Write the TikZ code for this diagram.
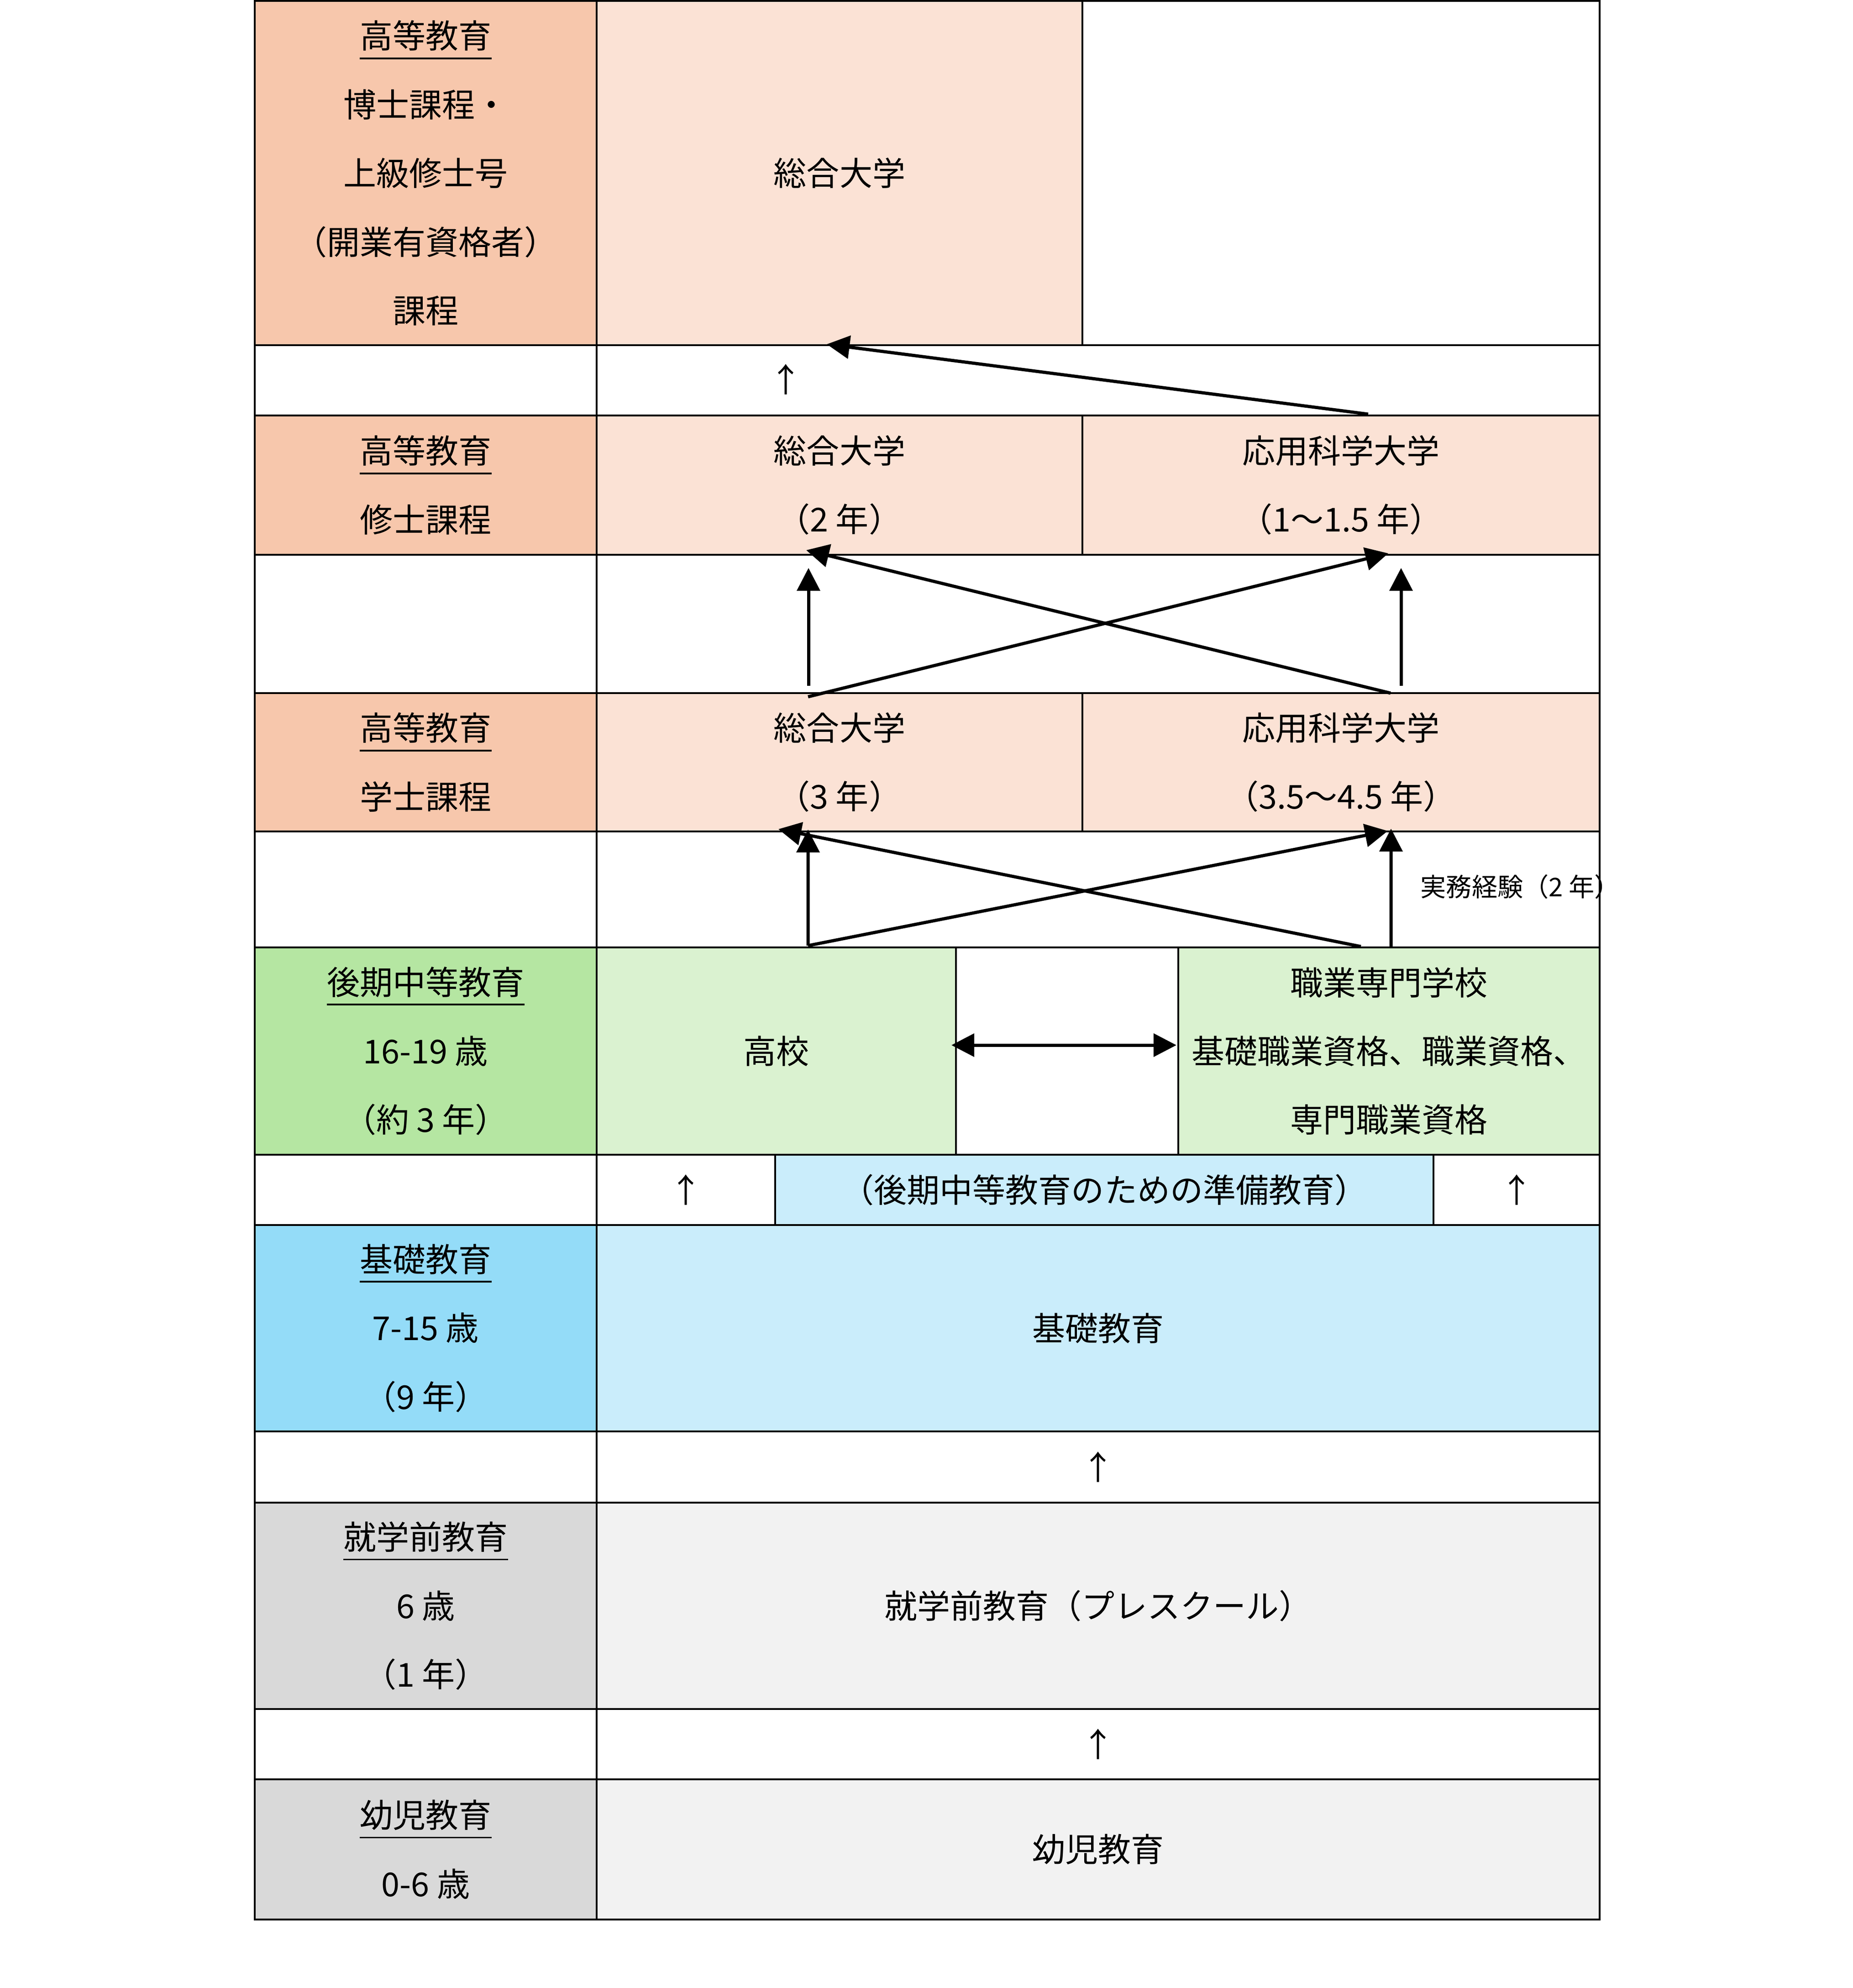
\documentclass[tikz,border=0pt]{standalone}
\usepackage{fontspec}
\setmainfont{Noto Sans CJK JP}
\usepackage{tikz}
\usetikzlibrary{arrows.meta,positioning,calc,fit}

\definecolor{orHead}{HTML}{F7C7AC}
\definecolor{orCell}{HTML}{FBE2D5}
\definecolor{grHead}{HTML}{B5E6A2}
\definecolor{grCell}{HTML}{DAF2D0}
\definecolor{blHead}{HTML}{94DCF8}
\definecolor{blCell}{HTML}{CAEDFB}
\definecolor{gyHead}{HTML}{D9D9D9}
\definecolor{gyCell}{HTML}{F2F2F2}

\newcommand{\cellfont}{\fontsize{20.5pt}{42.8pt}\selectfont}
\newcommand{\notefont}{\fontsize{16pt}{20pt}\selectfont}
% underlined heading line
\newcommand{\uhead}[1]{\setbox0=\hbox{#1}\rlap{\rule[-0.33em]{\wd0}{1.1pt}}\box0}

\begin{document}
\begin{tikzpicture}[>={Triangle[length=5mm,width=5mm]},line join=miter]
	\tikzstyle{cell}=[draw,line width=1.1pt,inner sep=0pt,fill=white]
	\tikzstyle{lbl}=[inner sep=0pt,align=center,font=\cellfont]
	\tikzstyle{flow}=[->,line width=2pt]
	\tikzstyle{up}=[inner sep=0pt,font=\cellfont]
	\tikzstyle{note}=[inner sep=0pt,font=\notefont]

	\useasboundingbox (0,0) rectangle (40.58,-43.54);

	% doctoral
	\node[cell, fill=orHead, fit={(5.58,-0.02) (13.07,-7.56)}, label={[lbl]center:{\uhead{高等教育}\\博士課程・\\上級修士号\\（開業有資格者）\\課程}}] (hdDoc) {};
	\node[cell, fill=orCell, fit={(13.07,-0.02) (23.71,-7.56)}, label={[lbl]center:{総合大学}}] (uniDoc) {};
	\node[cell, fit={(23.71,-0.02) (35.04,-7.56)}] (blankDoc) {};
	\node[cell, fit={(5.58,-7.56) (13.07,-9.10)}] (gapL1) {};
	\node[cell, fit={(13.07,-7.56) (35.04,-9.10)}] (gapR1) {};
	\node[up] (upDoc) at (17.21,-8.31) {↑};

	% masters
	\node[cell, fill=orHead, fit={(5.58,-9.10) (13.07,-12.15)}, label={[lbl]center:{\uhead{高等教育}\\修士課程}}] (hdMas) {};
	\node[cell, fill=orCell, fit={(13.07,-9.10) (23.71,-12.15)}, label={[lbl]center:{総合大学\\（2 年）}}] (uniMas) {};
	\node[cell, fill=orCell, fit={(23.71,-9.10) (35.04,-12.15)}, label={[lbl]center:{応用科学大学\\（1〜1.5 年）}}] (uasMas) {};
	\node[cell, fit={(5.58,-12.15) (13.07,-15.18)}] (gapL2) {};
	\node[cell, fit={(13.07,-12.15) (35.04,-15.18)}] (gapR2) {};

	% bachelor
	\node[cell, fill=orHead, fit={(5.58,-15.18) (13.07,-18.21)}, label={[lbl]center:{\uhead{高等教育}\\学士課程}}] (hdBac) {};
	\node[cell, fill=orCell, fit={(13.07,-15.18) (23.71,-18.21)}, label={[lbl]center:{総合大学\\（3 年）}}] (uniBac) {};
	\node[cell, fill=orCell, fit={(23.71,-15.18) (35.04,-18.21)}, label={[lbl]center:{応用科学大学\\（3.5〜4.5 年）}}] (uasBac) {};
	\node[cell, fit={(5.58,-18.21) (13.07,-20.75)}] (gapL3) {};
	\node[cell, fit={(13.07,-18.21) (35.04,-20.75)}] (gapR3) {};
	\node[note, anchor=west] (work) at (31.11,-19.42) {実務経験（2 年）};

	% upper secondary
	\node[cell, fill=grHead, fit={(5.58,-20.75) (13.07,-25.29)}, label={[lbl]center:{\uhead{後期中等教育}\\16-19 歳\\（約 3 年）}}] (hdSec) {};
	\node[cell, fill=grCell, fit={(13.07,-20.75) (20.94,-25.29)}, label={[lbl]center:{高校}}] (highSec) {};
	\node[cell, fit={(20.94,-20.75) (25.81,-25.29)}] (midSec) {};
	\node[cell, fill=grCell, fit={(25.81,-20.75) (35.04,-25.29)}, label={[lbl]center:{職業専門学校\\基礎職業資格、職業資格、\\専門職業資格}}] (vocSec) {};
	\node[cell, fit={(5.58,-25.29) (13.07,-26.83)}] (gapL4) {};
	\node[cell, fit={(13.07,-25.29) (16.98,-26.83)}, label={[lbl]center:{↑}}] (prepL) {};
	\node[cell, fill=blCell, fit={(16.98,-25.29) (31.40,-26.83)}, label={[lbl]center:{（後期中等教育のための準備教育）}}] (prep) {};
	\node[cell, fit={(31.40,-25.29) (35.04,-26.83)}, label={[lbl]center:{↑}}] (prepR) {};

	% basic, pre-school, early childhood
	\node[cell, fill=blHead, fit={(5.58,-26.83) (13.07,-31.35)}, label={[lbl]center:{\uhead{基礎教育}\\7-15 歳\\（9 年）}}] (hdBas) {};
	\node[cell, fill=blCell, fit={(13.07,-26.83) (35.04,-31.35)}, label={[lbl]center:{基礎教育}}] (bas) {};
	\node[cell, fit={(5.58,-31.35) (13.07,-32.91)}] (gapL5) {};
	\node[cell, fit={(13.07,-31.35) (35.04,-32.91)}, label={[lbl]center:{↑}}] (gapR5) {};
	\node[cell, fill=gyHead, fit={(5.58,-32.91) (13.07,-37.43)}, label={[lbl]center:{\uhead{就学前教育}\\6 歳\\（1 年）}}] (hdPre) {};
	\node[cell, fill=gyCell, fit={(13.07,-32.91) (35.04,-37.43)}, label={[lbl]center:{就学前教育（プレスクール）}}] (pre) {};
	\node[cell, fit={(5.58,-37.43) (13.07,-38.97)}] (gapL6) {};
	\node[cell, fit={(13.07,-37.43) (35.04,-38.97)}, label={[lbl]center:{↑}}] (gapR6) {};
	\node[cell, fill=gyHead, fit={(5.58,-38.97) (13.07,-42.04)}, label={[lbl]center:{\uhead{幼児教育}\\0-6 歳}}] (hdKid) {};
	\node[cell, fill=gyCell, fit={(13.07,-38.97) (35.04,-42.04)}, label={[lbl]center:{幼児教育}}] (kid) {};

	% arrows
	\draw[flow] ($(uasMas.north)+(0.595,0.01)$) -- ($(uniDoc.south)+(-0.28,0.04)$);

	\draw[flow] ($(uniBac.north)+(-0.68,0.14)$) -- ($(uniMas.south)+(-0.68,-0.27)$);
	\draw[flow] ($(uasBac.north)+(1.315,0.14)$) -- ($(uasMas.south)+(1.315,-0.27)$);
	\draw[flow] ($(uniBac.north)+(-0.69,-0.10)$) -- ($(uasMas.south)+(1.035,0.05)$);
	\draw[flow] ($(uasBac.north)+(1.085,-0.02)$) -- ($(uniMas.south)+(-0.73,0.12)$);

	\draw[flow] ($(highSec.north)+(0.695,0.02)$) -- ($(uniBac.south)+(-0.69,0.06)$);
	\draw[flow] ($(vocSec.north)+(0.045,0)$) -- ($(uasBac.south)+(1.095,0.08)$);
	\draw[flow] ($(highSec.north)+(0.695,0.02)$) -- ($(uasBac.south)+(1.025,0.03)$);
	\draw[flow] ($(vocSec.north)+(-0.615,0)$) -- ($(uniBac.south)+(-1.34,0.07)$);

	\draw[<->,line width=2pt] ($(midSec.west)+(-0.08,0.13)$) -- ($(midSec.east)+(-0.06,0.13)$);
\end{tikzpicture}
\end{document}
